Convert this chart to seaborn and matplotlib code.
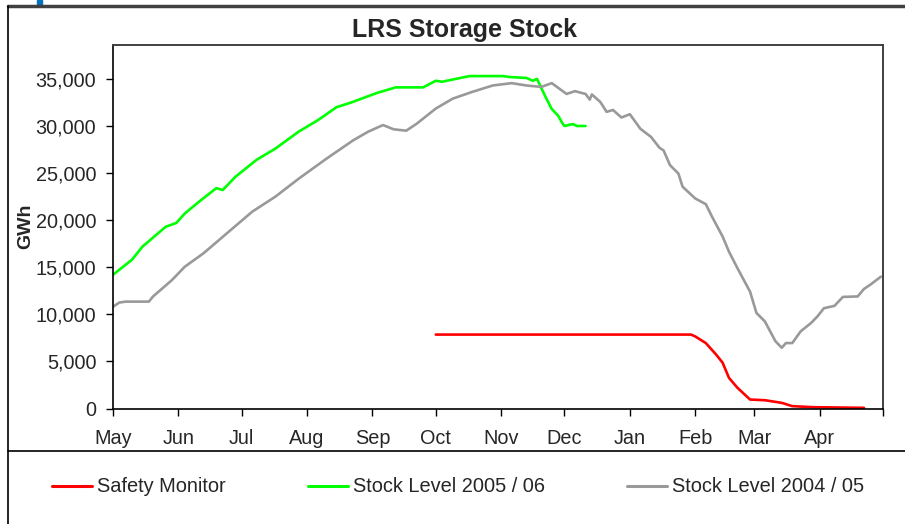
import numpy as np
import pandas as pd
import matplotlib
matplotlib.use("Agg")
import matplotlib.pyplot as plt
import matplotlib.ticker as mticker
from matplotlib.lines import Line2D
from matplotlib.patches import Rectangle
import seaborn as sns

# days counted from 1 May, values in GWh
safety_days = [153, 274, 276, 281, 286, 289, 292, 296, 302, 309, 317, 322, 332, 356]
safety_gwh = [7850, 7850, 7650, 6950, 5700, 4850, 3250, 2200, 950, 880, 600, 250, 140, 70]

stock0506_days = [0, 9, 14, 25, 30, 34, 41, 49, 52, 58, 68, 77, 88, 97, 106, 113, 125, 134,
                  147, 153, 156, 169, 185, 188, 196, 199, 201, 205, 208, 211, 213, 214, 218, 220, 224]
stock0506_gwh = [14200, 15800, 17200, 19300, 19700, 20700, 22000, 23400, 23200, 24600,
                 26400, 27600, 29400, 30600, 32000, 32500, 33500, 34100, 34100, 34800,
                 34700, 35300, 35300, 35200, 35100, 34800, 35000, 33100, 31800, 31100,
                 30300, 30000, 30200, 30000, 30000]

stock0405_days = [0, 3, 6, 17, 19, 28, 34, 43, 55, 66, 77, 88, 101, 114, 121, 128, 133, 139,
                  144, 153, 161, 170, 180, 189, 196, 203, 208, 215, 219, 224, 226, 227, 231,
                  234, 237, 241, 245, 250, 255, 259, 261, 264, 268, 270, 276, 281, 284, 289,
                  292, 296, 302, 305, 309, 314, 317, 319, 322, 326, 331, 334, 337, 342, 346,
                  353, 356, 359, 364]
stock0405_gwh = [10800, 11250, 11350, 11350, 11900, 13650, 15050, 16500, 18800, 20900,
                 22500, 24400, 26500, 28500, 29400, 30100, 29650, 29500, 30250, 31850,
                 32900, 33600, 34300, 34550, 34300, 34150, 34550, 33400, 33700, 33400,
                 32800, 33350, 32550, 31500, 31700, 30900, 31250, 29700, 28850, 27700,
                 27400, 25850, 24950, 23550, 22300, 21700, 20350, 18250, 16650, 14900,
                 12400, 10150, 9250, 7150, 6450, 6950, 6950, 8200, 9100, 9800,
                 10650, 10900, 11850, 11900, 12700, 13150, 14000]

month_labels = ["May", "Jun", "Jul", "Aug", "Sep", "Oct", "Nov", "Dec", "Jan", "Feb", "Mar", "Apr", ""]
month_starts = [0, 31, 61, 92, 123, 153, 184, 214, 245, 276, 304, 335, 365]

series_names = ["Safety Monitor", "Stock Level 2005 / 06", "Stock Level 2004 / 05"]
series_colors = ["#ff0000", "#00ff00", "#999999"]

sns.set_style("white")
plt.rcParams["font.family"] = ["Liberation Sans", "DejaVu Sans"]

df = pd.concat([
    pd.DataFrame({"day": safety_days, "gwh": safety_gwh, "series": series_names[0]}),
    pd.DataFrame({"day": stock0506_days, "gwh": stock0506_gwh, "series": series_names[1]}),
    pd.DataFrame({"day": stock0405_days, "gwh": stock0405_gwh, "series": series_names[2]}),
])

W, H = 905, 524
fig = plt.figure(figsize=(W / 100, H / 100), dpi=100)
ax = fig.add_axes([113 / W, 1 - 408.5 / H, 770 / W, 363.5 / H])

sns.lineplot(data=df, x="day", y="gwh", hue="series", hue_order=series_names,
             palette=series_colors, linewidth=1.9, estimator=None, sort=False,
             legend=False, ax=ax)

ax.set_xlim(0, 365)
ax.set_ylim(0, 38600)
ax.set_xticks(month_starts)
ax.set_xticklabels(month_labels)
ax.set_yticks(np.arange(0, 35001, 5000))
ax.yaxis.set_major_formatter(mticker.FuncFormatter(lambda v, p: f"{v:,.0f}"))
ax.tick_params(axis="both", which="major", labelsize=14.3, direction="out",
               length=5, width=1, color="black", left=True, bottom=True)
ax.tick_params(axis="y", pad=7)
ax.tick_params(axis="x", pad=10)
ax.set_xlabel("")
ax.set_ylabel("")
for side in ["left", "bottom"]:
    ax.spines[side].set_color("black")
    ax.spines[side].set_linewidth(1.2)
for side in ["top", "right"]:
    ax.spines[side].set_color("#404040")
    ax.spines[side].set_linewidth(1.4)

fig.text(464 / W, 1 - 30 / H, "LRS Storage Stock", ha="center", va="center",
         fontsize=18, fontweight="bold")
fig.text(26 / W, 1 - 226 / H, "GWh", ha="center", va="center", rotation=90,
         fontsize=14, fontweight="bold")

# outer frame and legend separator
fig.add_artist(Line2D([8 / W, 1], [1 - 6 / H, 1 - 6 / H], color="#404040", lw=2.5,
                      transform=fig.transFigure))
fig.add_artist(Line2D([8 / W, 8 / W], [0, 1 - 6 / H], color="black", lw=1.2,
                      transform=fig.transFigure))
fig.add_artist(Line2D([8 / W, 1], [1 - 451 / H, 1 - 451 / H], color="black", lw=1.2,
                      transform=fig.transFigure))
fig.add_artist(Rectangle((37 / W, 1 - 6 / H), 5 / W, 6 / H, color="#0070c0",
                         transform=fig.transFigure))

handles = [Line2D([], [], color=c, lw=2.2) for c in series_colors]
fig.legend(handles, series_names, loc="center left", bbox_to_anchor=(52 / W, 1 - 487 / H),
           ncol=3, frameon=False, fontsize=14.4, handlelength=2.0, handletextpad=0.25,
           columnspacing=4.1, borderpad=0, borderaxespad=0)

fig.savefig("out.png", dpi=100)
